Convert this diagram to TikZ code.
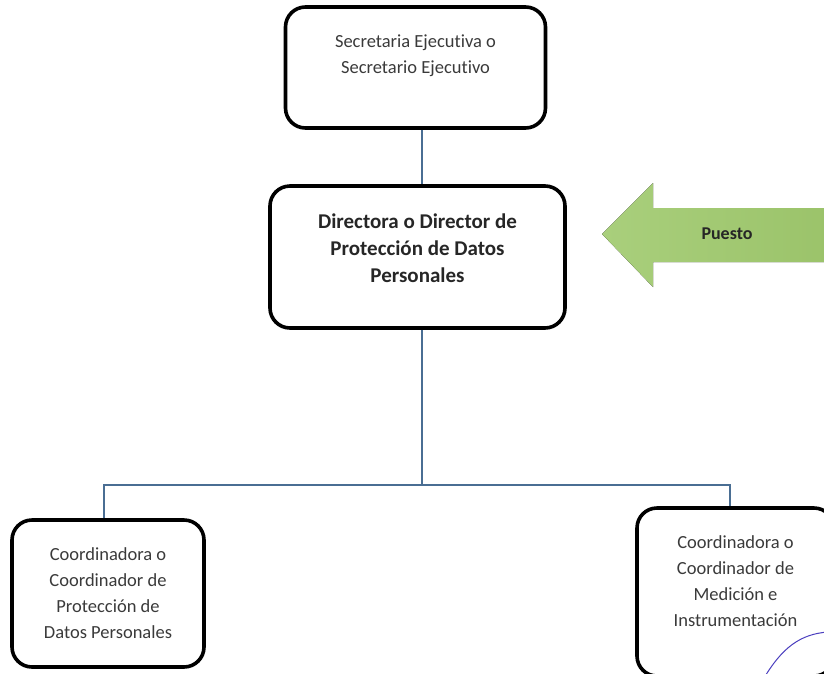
\documentclass[tikz,border=0pt]{standalone}
\usepackage{fontspec}
\setmainfont{Carlito}[Ligatures=NoCommon]
\usepackage{tikz}
\usepackage{xcolor}
\definecolor{linkblue}{HTML}{4A6E93}
\definecolor{puestolight}{HTML}{A9CF7C}
\definecolor{puestodark}{HTML}{9BC36A}
\definecolor{textgrey}{HTML}{3A3A3A}
\definecolor{signblue}{HTML}{4B3FBF}

\begin{document}
\begin{tikzpicture}[
  x=1pt, y=-1pt,
  box/.style={draw=black, line width=3.6pt, rounded corners=20pt, align=center, inner sep=0pt, text=textgrey, font=\fontsize{18.5}{26}\selectfont},
  bigbox/.style={box, text=black!85, font=\fontsize{21}{27}\selectfont\bfseries},
  link/.style={draw=linkblue, line width=1.3pt},
  puesto/.style={left color=puestolight, right color=puestodark}
]
\useasboundingbox (0,0) rectangle (824,673);
\clip (0,0) rectangle (824,673);

% boxes
\node[box, minimum width=260, minimum height=121] (sec) at (415.5,67.5)
  {Secretaria Ejecutiva o\\Secretario Ejecutivo\\\mbox{}};
\node[bigbox, minimum width=295, minimum height=142] (dir) at (417.5,257)
  {Directora o Director de\\Protección de Datos\\Personales\\[-9pt]\mbox{}};
\node[box, minimum width=192, minimum height=147] (cl) at (108,593.5)
  {Coordinadora o\\Coordinador de\\Protección de\\Datos Personales};
\node[box, minimum width=197, minimum height=168] (cr) at (735.5,592)
  {Coordinadora o\\Coordinador de\\Medición e\\Instrumentación\\[-4pt]\mbox{}};

% connectors
\coordinate (bus) at (422,485);
\coordinate (busl) at (104,485);
\coordinate (busr) at (730,485);
\draw[link] (sec.south -| bus) -- (dir.north -| bus);
\draw[link] (dir.south -| bus) -- (bus);
\draw[link] (busl |- cl.north) -- (busl) -- (busr) -- (busr |- cr.north);

% green arrow
\fill[puesto] (602,234) -- (653,183) -- (653,208) -- (830,208)
  -- (830,262) -- (653,262) -- (653,287) -- cycle;
\node[font=\fontsize{18}{22}\selectfont\bfseries, text=black!85] (puestotxt) at (727,234) {Puesto};

% pen stroke
\draw[signblue, line width=1pt] (764,678) .. controls (782,648) and (800,634) .. (828,632);
\end{tikzpicture}
\end{document}
